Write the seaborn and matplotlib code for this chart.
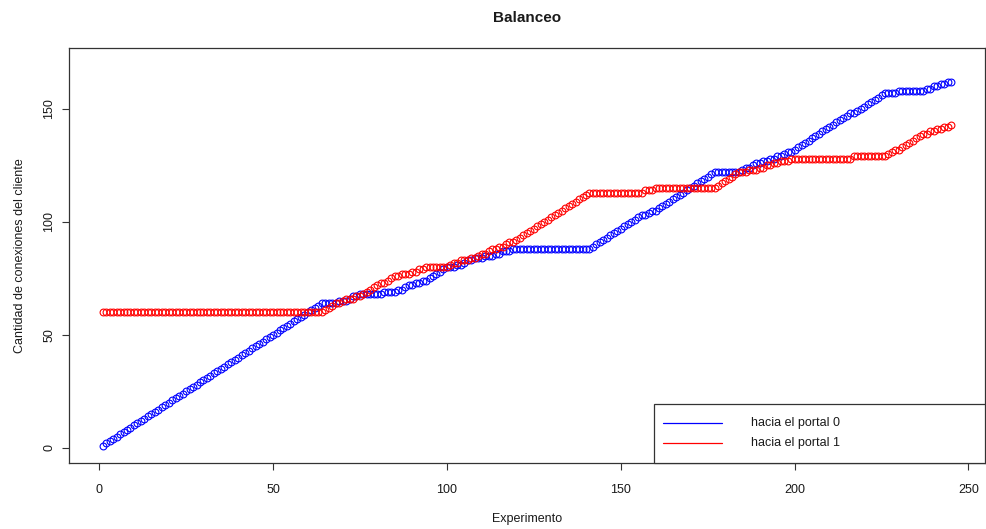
import matplotlib
matplotlib.use("Agg")
import matplotlib.pyplot as plt
import seaborn as sns
import pandas as pd
from matplotlib.patches import Rectangle
from matplotlib.lines import Line2D

# ---------------- data ----------------
title = "Balanceo"
x_label = "Experimento"
y_label = "Cantidad de conexiones del cliente"
series_names = ["hacia el portal 0", "hacia el portal 1"]
series_colors = ["#0000FF", "#FF0000"]
x_ticks = [0, 50, 100, 150, 200, 250]
y_ticks = [0, 50, 100, 150]

experimento = list(range(1, 246))

portal0 = [
    1, 2, 3, 4, 5, 6, 7, 8, 9, 10,
    11, 12, 13, 14, 15, 16, 17, 18, 19, 20,
    21, 22, 23, 24, 25, 26, 27, 28, 29, 30,
    31, 32, 33, 34, 35, 36, 37, 38, 39, 40,
    41, 42, 43, 44, 45, 46, 47, 48, 49, 50,
    51, 52, 53, 54, 55, 56, 57, 58, 59, 60,
    61, 62, 63, 64,
    64, 64, 64, 64,
    65, 65, 65, 66, 67, 67, 68,
    68, 68, 68, 68, 68, 68, 69, 69, 69, 69,
    70, 70, 71, 72, 72, 73, 73, 74, 74,
    75, 76, 77, 78, 79,
    80, 80, 80, 81, 81, 82, 83,
    83, 84, 84, 84, 85, 85, 85, 86, 86, 87, 87, 87, 88, 88,
    88, 88, 88, 88, 88, 88, 88, 88, 88, 88,
    88, 88, 88, 88, 88, 88, 88, 88, 88, 88, 88,
    89, 90, 91, 92, 93, 94, 95, 96, 97, 98, 99, 100, 101, 102, 103,
    103, 104, 105, 105,
    106, 107, 108, 109, 110, 111, 112, 113, 114, 115, 116, 117, 118, 119, 120,
    121, 122, 122, 122, 122, 122, 122, 122, 122,
    123, 124, 124, 125, 126, 126, 127, 127, 128, 128, 129, 129, 130, 131,
    131,
    132, 133, 134, 135, 136, 137, 138, 139, 140, 141, 142, 143, 144, 145, 146, 147,
    148,
    148, 149, 150, 151, 152, 153, 154, 155, 156, 157,
    157, 157, 157,
    158, 158, 158, 158, 158, 158, 158,
    158, 159, 159, 160, 160, 161, 161, 162, 162,
]

portal1 = [
    60, 60, 60, 60, 60, 60, 60, 60, 60, 60,
    60, 60, 60, 60, 60, 60, 60, 60, 60, 60,
    60, 60, 60, 60, 60, 60, 60, 60, 60, 60,
    60, 60, 60, 60, 60, 60, 60, 60, 60, 60,
    60, 60, 60, 60, 60, 60, 60, 60, 60, 60,
    60, 60, 60, 60, 60, 60, 60, 60, 60, 60,
    60, 60, 60, 60,
    61, 62, 63, 64,
    64, 65, 66, 66, 66, 67, 67,
    68, 69, 70, 71, 72, 73, 73, 74, 75, 76,
    76, 77, 77, 77, 78, 78, 79, 79, 80,
    80, 80, 80, 80, 80,
    80, 81, 82, 82, 83, 83, 83,
    84, 84, 85, 86, 86, 87, 88, 88, 89, 89, 90, 91, 91, 92,
    93, 94, 95, 96, 97, 98, 99, 100, 101, 102,
    103, 104, 105, 106, 107, 108, 109, 110, 111, 112, 113,
    113, 113, 113, 113, 113, 113, 113, 113, 113, 113, 113, 113, 113, 113, 113,
    114, 114, 114,
    115, 115, 115, 115, 115, 115, 115, 115, 115, 115, 115, 115, 115, 115, 115, 115,
    115, 115, 116, 117, 118, 119, 120, 121, 122,
    122, 122, 123, 123, 123, 124, 124, 125, 125, 126, 126, 127, 127, 127,
    128, 128, 128, 128, 128, 128, 128, 128, 128, 128, 128, 128, 128, 128, 128, 128, 128, 128,
    129, 129, 129, 129, 129, 129, 129, 129, 129, 129,
    130, 131, 132,
    132, 133, 134, 135, 136, 137, 138,
    139, 139, 140, 140, 141, 141, 142, 142, 143,
]

assert len(portal0) == len(experimento) == len(portal1)

# ---------------- style ----------------
sns.set_style("ticks")
plt.rcParams["font.family"] = ["Liberation Sans", "DejaVu Sans"]
plt.rcParams["font.size"] = 9
text_color = "#1a1a1a"

fig = plt.figure(figsize=(9.86, 5.29), dpi=100)
ax = fig.add_axes([0.0697, 0.1242, 0.9293, 0.7845])

df0 = pd.DataFrame({"x": experimento, "y": portal0})
df1 = pd.DataFrame({"x": experimento, "y": portal1})
for df, col in ((df0, series_colors[0]), (df1, series_colors[1])):
    sns.lineplot(data=df, x="x", y="y", ax=ax, estimator=None, linestyle="",
                 marker="o", markersize=4.9, markerfacecolor="none",
                 markeredgecolor=col, markeredgewidth=0.8, color=col)

ax.set_xlim(-8.76, 254.76)
ax.set_ylim(-6.8, 176.8)
ax.set_xticks(x_ticks)
ax.set_yticks(y_ticks)
ax.set_xticklabels([str(t) for t in x_ticks])
ax.set_yticklabels([str(t) for t in y_ticks], rotation=90, va="center")

for s in ax.spines.values():
    s.set_visible(True)
    s.set_color("#333333")
    s.set_linewidth(0.9)
ax.tick_params(axis="both", direction="out", length=5, width=0.8,
               color="#333333", labelcolor=text_color, labelsize=9)
ax.tick_params(axis="x", pad=10)
ax.tick_params(axis="y", pad=4.5)

ax.set_xlabel(x_label, fontsize=9, color=text_color)
ax.xaxis.label.set_va("center")
ax.xaxis.set_label_coords(0.5, -0.134)
ax.set_ylabel(y_label, fontsize=9, color=text_color)
ax.yaxis.label.set(rotation_mode="default", va="center", ha="center")
ax.yaxis.set_label_coords(-0.0535, 0.5)

ax.set_title(title, fontsize=11, fontweight="bold", color=text_color,
             y=1.073, va="center", pad=0)

# legend box (bottom right, like R's legend)
lx0, lh = 0.639, 0.1436
ax.add_patch(Rectangle((lx0, 0), 1 - lx0, lh, transform=ax.transAxes,
                       facecolor="white", edgecolor="#333333", linewidth=0.9,
                       zorder=5, clip_on=False))
for name, col, yy in zip(series_names, series_colors, (0.0964, 0.0482)):
    ax.add_line(Line2D([0.6483, 0.7126], [yy, yy], transform=ax.transAxes,
                       color=col, linewidth=0.9, zorder=6))
    ax.text(0.7443, yy, name, transform=ax.transAxes, va="center", ha="left",
            fontsize=9, color=text_color, zorder=6)

fig.savefig("out.png", dpi=100)
